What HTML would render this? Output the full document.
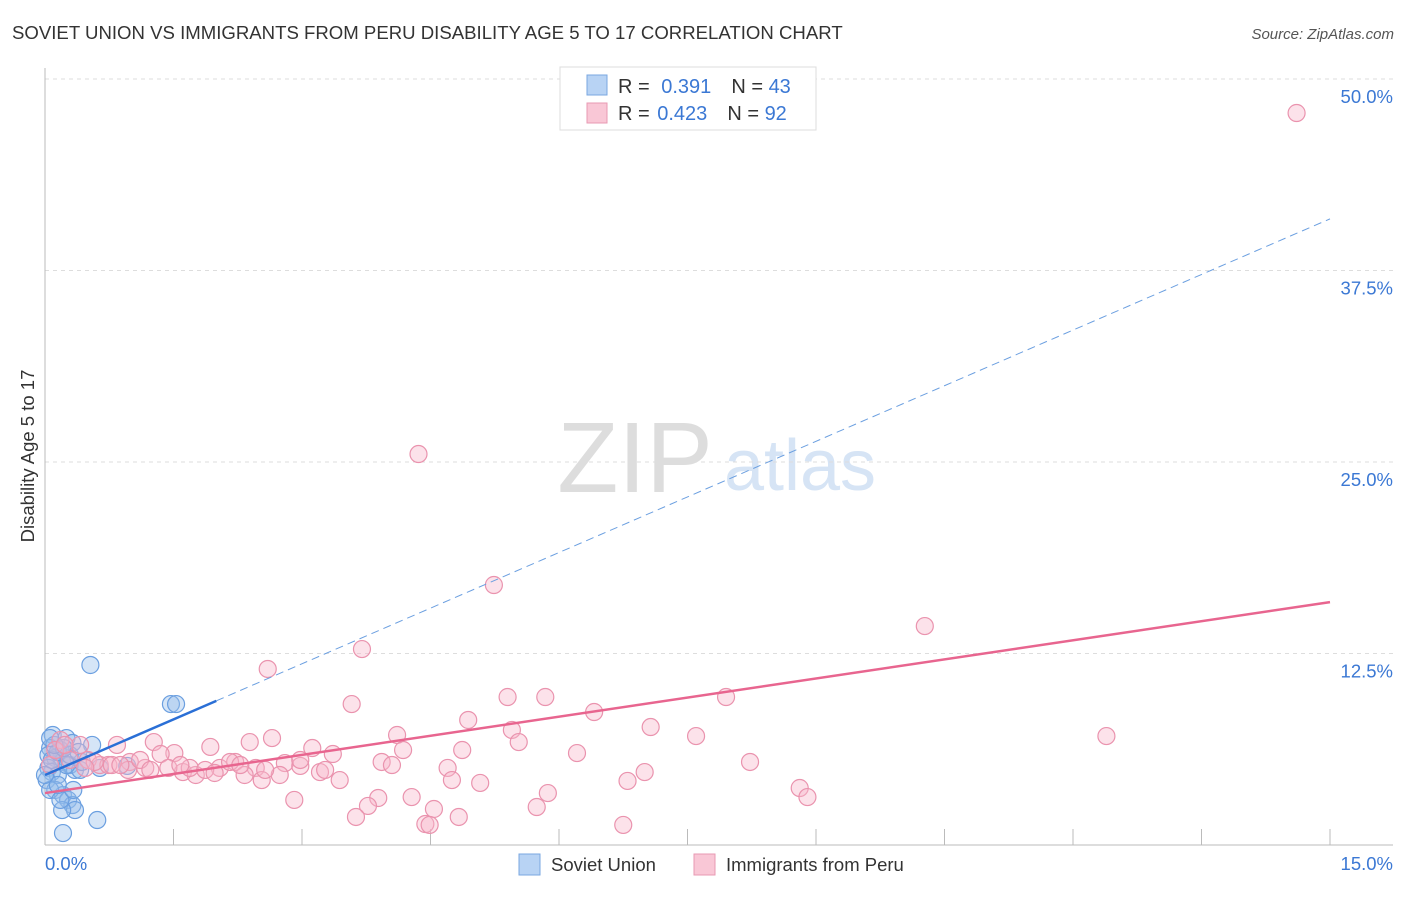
<!DOCTYPE html>
<html><head><meta charset="utf-8"><style>
body{margin:0;background:#fff;font-family:"Liberation Sans",sans-serif}
svg text{font-family:"Liberation Sans",sans-serif}
</style></head><body>
<svg id="c" width="1406" height="892" xmlns="http://www.w3.org/2000/svg">
<text x="12" y="39" font-size="18.6" fill="#333">SOVIET UNION VS IMMIGRANTS FROM PERU DISABILITY AGE 5 TO 17 CORRELATION CHART</text>
<text x="1394" y="39" font-size="15" fill="#555" font-style="italic" text-anchor="end">Source: ZipAtlas.com</text>
<text x="34" y="456" font-size="18.5" fill="#333" transform="rotate(-90 34 456)" text-anchor="middle">Disability Age 5 to 17</text>
<g>
<text x="635" y="492" font-size="100" fill="#ddd" text-anchor="middle" font-family="Liberation Serif">ZIP</text>
<text x="800" y="490" font-size="72" fill="#d6e4f5" text-anchor="middle">atlas</text>
</g>
<g id="grid"></g><g id="axes"></g><g id="pts"></g><g id="lines"></g>
<g>
<rect x="560" y="67" width="256" height="63" fill="#fff" stroke="#ddd"/>
<rect x="587" y="75" width="20" height="20" fill="#b8d3f4" stroke="#7aa7e0"/>
<rect x="587" y="103" width="20" height="20" fill="#f9c7d6" stroke="#e89ab3"/>
<text x="618" y="93" font-size="20" fill="#333">R = <tspan fill="#3b78d4" dx="6">0.391</tspan><tspan dx="20">N = </tspan><tspan fill="#3b78d4">43</tspan></text>
<text x="618" y="120" font-size="20" fill="#333">R = <tspan fill="#3b78d4" dx="2">0.423</tspan><tspan dx="20">N = </tspan><tspan fill="#3b78d4">92</tspan></text>
</g>
<g>
<rect x="519" y="854" width="21" height="21" fill="#b8d3f4" stroke="#7aa7e0"/>
<text x="551" y="871" font-size="18.5" fill="#333">Soviet Union</text>
<rect x="694" y="854" width="21" height="21" fill="#f9c7d6" stroke="#e89ab3"/>
<text x="726" y="871" font-size="18.5" fill="#333">Immigrants from Peru</text>
</g>
</svg>
<script>
const yTicks=[12.5,25,37.5,50];
const yTickLabels=["12.5%","25.0%","37.5%","50.0%"];
const xTickLabels=["0.0%","15.0%"];
const sovietX=[0.53,1.47,1.53,0.09,0.25,0.32,0.55,0.06,0.18,0.04,0.12,0.2,0.29,0.04,0.35,0.08,0.15,0.41,0.96,0.02,0.12,0.21,0.06,0.27,0.32,0.35,0.2,0.61,0.21,0.18,0.15,0.25,0.08,0.15,0.29,0.43,0,0.64,0.22,0.11,0.39,0.06,0.33];
const sovietY=[11.75,9.2,9.2,7.18,6.98,6.66,6.53,6.33,6.2,5.87,5.68,5.42,5.22,5.03,4.9,4.76,4.57,4.9,5.16,4.24,3.59,3.26,3.59,2.94,2.61,2.28,2.28,1.63,0.78,2.94,3.92,5.22,5.55,6.07,5.87,5.42,4.57,5.03,6.33,6.53,6.07,6.98,3.59];
const peruX=[14.61,4.36,5.24,10.27,3.7,2.6,5.4,5.84,7.95,3.58,4.94,6.41,5.45,7.07,12.39,7.6,4.11,5.53,1.27,2.39,2.65,1.93,0.84,4.87,4.18,6.21,3.12,3.36,1.51,1.35,0.18,0.41,0.5,0.64,0.99,1.17,1.61,1.76,2.04,2.22,2.46,2.8,2.98,3.21,3.93,4.05,4.7,7.0,8.23,1.44,0.97,1.69,2.16,1.87,0.74,2.74,2.33,2.53,3.44,4.75,5.08,6.8,8.81,8.9,3.89,2.91,4.28,5.87,3.77,4.54,5.74,3.63,4.83,4.44,4.49,6.75,0.06,0.29,0.58,0.78,1.11,2.98,1.98,0.12,0.23,0.47,2.28,2.57,3.27,1.23,1.58,0.88];
const peruY=[47.78,25.52,16.97,14.29,12.79,11.49,9.66,9.66,9.66,9.2,8.16,8.68,7.51,7.7,7.11,7.11,7.18,6.72,6.72,6.72,6.98,6.4,6.53,6.2,6.2,6.0,6.33,5.94,6.0,5.94,6.85,6.53,5.55,5.22,5.42,5.03,4.76,4.57,5.03,5.42,5.03,5.35,5.16,4.76,5.42,5.22,5.03,4.76,5.42,5.03,4.9,5.03,5.42,4.9,5.22,4.57,4.57,4.24,4.24,4.24,4.05,4.18,3.72,3.13,3.07,2.94,3.13,3.39,2.55,2.35,2.48,1.83,1.83,1.37,1.31,1.31,5.22,5.55,5.42,5.22,5.55,5.55,4.7,6.2,6.53,5.03,5.22,4.9,4.9,4.9,5.22,5.22];
const sovietFit=[4.57,2.42]; // intercept, slope
const peruFit=[3.39,0.831];
const NS="http://www.w3.org/2000/svg";
const X=v=>45+v/15*1285, Y=v=>845-v/50*766;
function mk(t,a,p){const e=document.createElementNS(NS,t);for(const k in a)e.setAttribute(k,a[k]);document.getElementById(p).appendChild(e);return e;}
yTicks.forEach((t,i)=>{
  const l=mk('line',{x1:45,x2:1393,y1:Y(t),y2:Y(t),stroke:'#ddd','stroke-dasharray':'4,4'},'grid');
  
  
  const tx=mk('text',{x:1393,y:Y(t)+24,'font-size':18.5,fill:'#3b78d4','text-anchor':'end'},'grid');
  tx.textContent=yTickLabels[i];
  
  
});
let a=mk('line',{x1:45,x2:45,y1:68,y2:845,stroke:'#bbb'},'axes');

a=mk('line',{x1:45,x2:1393,y1:845,y2:845,stroke:'#bbb'},'axes');

for(let i=0;i<=10;i++){const t=mk('line',{x1:X(i*1.5),x2:X(i*1.5),y1:829,y2:845,stroke:'#bbb'},'axes');

}
[[0,45,'start'],[15,1393,'end']].forEach((d,i)=>{const t=mk('text',{x:d[1],y:870,'font-size':18.5,fill:'#3b78d4','text-anchor':d[2]},'axes');t.textContent=xTickLabels[i];

});
sovietX.forEach((v,i)=>{const c=mk('circle',{cx:X(v),cy:Y(sovietY[i]),r:8.5,fill:'rgba(150,190,236,0.4)',stroke:'#6b9fe0','stroke-width':1.2},'pts');

});
peruX.forEach((v,i)=>{const c=mk('circle',{cx:X(v),cy:Y(peruY[i]),r:8.5,fill:'rgba(248,182,202,0.4)',stroke:'#ea93ae','stroke-width':1.2},'pts');

});
let l=mk('line',{x1:X(2),y1:Y(sovietFit[0]+sovietFit[1]*2),x2:X(15),y2:Y(sovietFit[0]+sovietFit[1]*15),stroke:'#6b9fe0','stroke-width':1,'stroke-dasharray':'8,5'},'lines');

l=mk('line',{x1:X(0),y1:Y(sovietFit[0]),x2:X(2),y2:Y(sovietFit[0]+sovietFit[1]*2),stroke:'#2a6fd6','stroke-width':2.5},'lines');

l=mk('line',{x1:X(0),y1:Y(peruFit[0]),x2:X(15),y2:Y(peruFit[0]+peruFit[1]*15),stroke:'#e8658f','stroke-width':2.5},'lines');

</script>
</body></html>
